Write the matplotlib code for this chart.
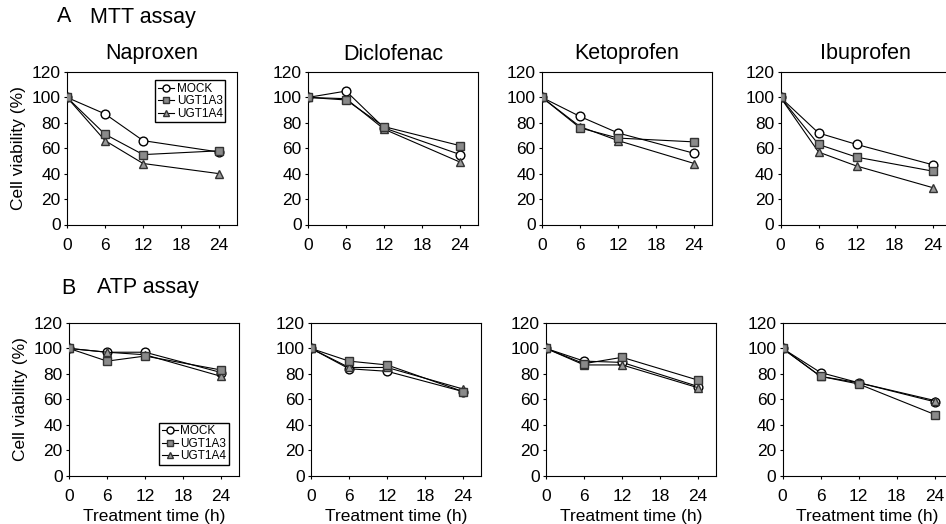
import matplotlib
matplotlib.use('Agg')
import matplotlib.pyplot as plt
import numpy as np

# treatment times (h)
times = [0, 6, 12, 24]
drugs = ['Naproxen', 'Diclofenac', 'Ketoprofen', 'Ibuprofen']
groups = ['MOCK', 'UGT1A3', 'UGT1A4']

# A  MTT assay, cell viability (%)
mtt_mock = [[100, 87, 66, 57],
            [100, 105, 76, 55],
            [100, 85, 72, 56],
            [100, 72, 63, 47]]
mtt_1a3 = [[100, 71, 55, 58],
           [100, 98, 77, 62],
           [100, 76, 68, 65],
           [100, 63, 53, 42]]
mtt_1a4 = [[100, 66, 48, 40],
           [100, 99, 75, 49],
           [100, 77, 66, 48],
           [100, 57, 46, 29]]

# B  ATP assay
atp_mock = [[100, 97, 97, 81],
            [100, 84, 82, 66],
            [100, 90, 89, 70],
            [100, 81, 73, 58]]
atp_1a3 = [[100, 90, 94, 83],
           [100, 90, 87, 66],
           [100, 88, 93, 75],
           [100, 78, 72, 48]]
atp_1a4 = [[100, 97, 95, 78],
           [100, 85, 85, 68],
           [100, 87, 87, 69],
           [100, 78, 73, 59]]

plt.rcParams['font.family'] = ['Liberation Sans', 'DejaVu Sans']

W, H = 946., 524.
fig = plt.figure(figsize=(W / 100, H / 100), dpi=100)

# marker styles per group
styles = {'MOCK':   dict(marker='o', mfc='white', mec='black', ms=6.3, zorder=3),
          'UGT1A3': dict(marker='s', mfc='#8a8a8a', mec='#333333', ms=5.8, zorder=5),
          'UGT1A4': dict(marker='^', mfc='#9a9a9a', mec='#333333', ms=5.8, zorder=4)}


def px_axes(left, top, width=170., height=152.5):
    """axes from pixel coordinates (top-left origin)"""
    return fig.add_axes([left / W, 1 - (top + height) / H, width / W, height / H])


def draw_panel(ax, mock, a3, a4):
    for name, vals in zip(groups, [mock, a3, a4]):
        ax.plot(times, vals, color='black', lw=0.8, label=name, **styles[name])
    ax.set_xlim(0, 26.8)
    ax.set_ylim(0, 120)
    ax.set_xticks([0, 6, 12, 18, 24])
    ax.set_yticks(np.arange(0, 121, 20))
    ax.tick_params(direction='out', length=2.5, width=0.8, labelsize=12.5)
    ax.tick_params(axis='x', pad=7)
    ax.tick_params(axis='y', pad=2)
    for s in ax.spines.values():
        s.set_linewidth(0.8)


def add_legend(ax, loc, anchor):
    ax.legend(loc=loc, bbox_to_anchor=anchor, fontsize=8.5,
              frameon=True, fancybox=False, edgecolor='black', framealpha=1,
              handlelength=1.4, handletextpad=0.2, labelspacing=0.05,
              borderpad=0.2, borderaxespad=0, markerscale=0.8)


top_lefts = [67, 308, 542, 780.5]
bot_lefts = [69, 311, 546, 782.5]

for i in range(4):
    ax = px_axes(top_lefts[i], 72)
    draw_panel(ax, mtt_mock[i], mtt_1a3[i], mtt_1a4[i])
    ax.set_title(drugs[i], fontsize=15.5, pad=9)
    if i == 0:
        ax.set_ylabel('Cell viability (%)', fontsize=12.5, labelpad=4)
        add_legend(ax, 'upper right', (0.93, 0.945))

    ax = px_axes(bot_lefts[i], 323)
    draw_panel(ax, atp_mock[i], atp_1a3[i], atp_1a4[i])
    ax.set_xlabel('Treatment time (h)', fontsize=12.5, labelpad=4)
    if i == 0:
        ax.set_ylabel('Cell viability (%)', fontsize=12.5, labelpad=4)
        add_legend(ax, 'lower right', (0.94, 0.07))

# section headings
fig.text(57 / W, 1 - 17 / H, 'A', fontsize=15.5, va='center')
fig.text(90 / W, 1 - 17 / H, 'MTT assay', fontsize=15.5, va='center')
fig.text(61 / W, 1 - 288 / H, 'B', fontsize=15.5, va='center')
fig.text(97 / W, 1 - 288 / H, 'ATP assay', fontsize=15.5, va='center')

fig.savefig('out.png', dpi=100)
